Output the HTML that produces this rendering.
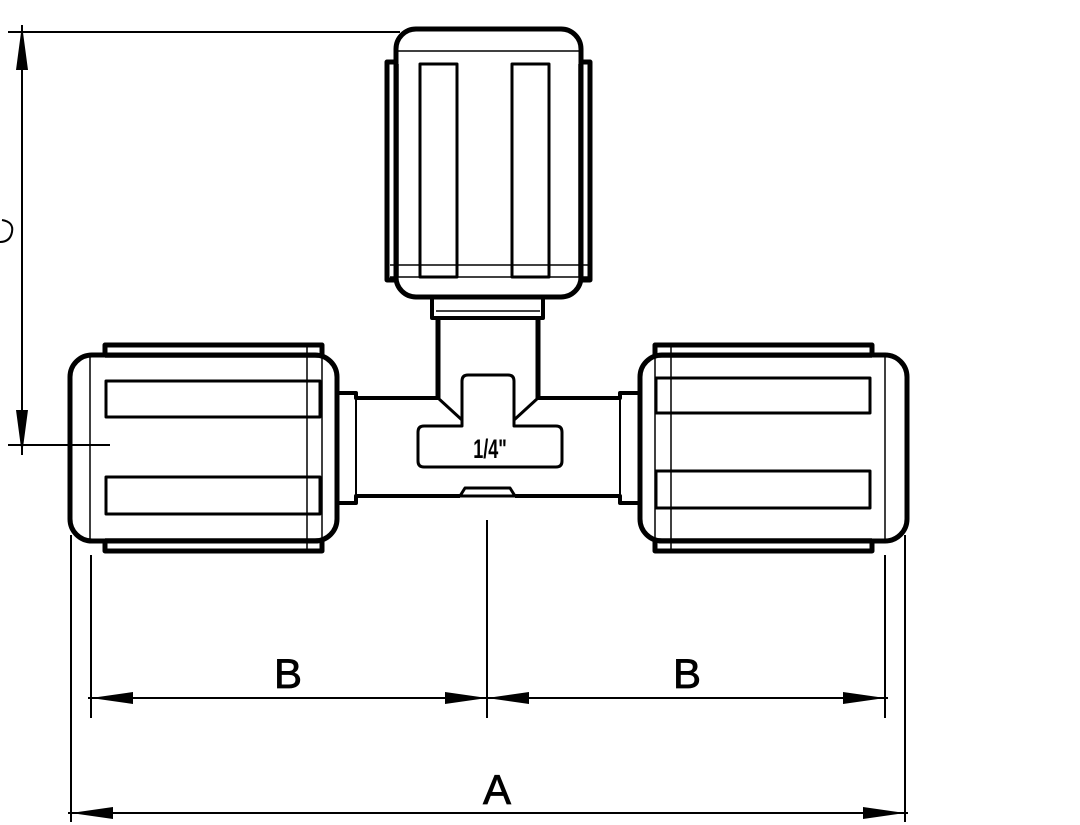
<!DOCTYPE html>
<html><head><style>html,body{margin:0;padding:0;background:#fff}svg{display:block}</style></head>
<body>
<svg width="1080" height="825" viewBox="0 0 1080 825" xmlns="http://www.w3.org/2000/svg" font-family="Liberation Sans, sans-serif">
<g fill="none" stroke="#000" stroke-linejoin="round">
<!-- dimension C -->
<line x1="8" y1="32" x2="400" y2="32" stroke-width="2"/>
<line x1="8" y1="445" x2="110" y2="445" stroke-width="2"/>
<line x1="22" y1="25" x2="22" y2="455" stroke-width="2"/>
<path d="M2,220 q12,2 10,12 q-2,10 -12,10" stroke-width="2"/>
<!-- top knob -->
<rect x="396" y="29" width="185" height="268" rx="20" stroke-width="5"/>
<path d="M396,62 H387 V280 H396 M581,62 H590 V280 H581" stroke-width="5"/>
<line x1="396" y1="51" x2="581" y2="51" stroke-width="1.5"/>
<line x1="390" y1="265" x2="588" y2="265" stroke-width="1.5"/>
<line x1="390" y1="277" x2="588" y2="277" stroke-width="1.5"/>
<line x1="398" y1="64" x2="398" y2="277" stroke-width="1.5"/>
<line x1="579" y1="64" x2="579" y2="277" stroke-width="1.5"/>
<rect x="420" y="64" width="37" height="213" stroke-width="3"/>
<rect x="512" y="64" width="37" height="213" stroke-width="3"/>
<!-- stem -->
<path d="M432,297 V318 H543 V297" stroke-width="4"/>
<line x1="436" y1="311" x2="540" y2="311" stroke-width="1.5"/>
<path d="M438,318 V398 M538,318 V398" stroke-width="5"/>
<!-- body tube -->
<path d="M337,393 H356 V398 H438 M538,398 H620 V393 H640" stroke-width="4"/>
<path d="M337,503 H356 V496 H460 M515,496 H620 V503 H640" stroke-width="4"/>
<path d="M460,496 l5,-8 h45 l5,8 z" stroke-width="3"/>
<line x1="356" y1="398" x2="356" y2="496" stroke-width="2"/>
<line x1="620" y1="398" x2="620" y2="496" stroke-width="2"/>
<line x1="438" y1="398" x2="462" y2="420" stroke-width="3"/>
<line x1="538" y1="398" x2="514" y2="420" stroke-width="3"/>
<!-- tee label outline -->
<path d="M424,426 H462 V381 Q462,375 468,375 H508 Q514,375 514,381 V426 H556 Q562,426 562,432 V461 Q562,467 556,467 H424 Q418,467 418,461 V432 Q418,426 424,426 Z" stroke-width="3"/>
<!-- left knob -->
<rect x="70" y="355" width="267" height="186" rx="22" stroke-width="5"/>
<path d="M105,355 V345 H322 V355 M105,541 V551 H322 V541" stroke-width="5"/>
<line x1="90" y1="355" x2="90" y2="541" stroke-width="1.5"/>
<line x1="307" y1="347" x2="307" y2="549" stroke-width="1.5"/>
<line x1="322" y1="347" x2="322" y2="549" stroke-width="1.5"/>
<line x1="105" y1="357" x2="320" y2="357" stroke-width="1.5"/>
<line x1="105" y1="539" x2="320" y2="539" stroke-width="1.5"/>
<rect x="106" y="381" width="214" height="36" stroke-width="3"/>
<rect x="106" y="477" width="214" height="37" stroke-width="3"/>
<!-- right knob -->
<rect x="640" y="355" width="267" height="186" rx="22" stroke-width="5"/>
<path d="M655,355 V345 H872 V355 M655,541 V551 H872 V541" stroke-width="5"/>
<line x1="655" y1="347" x2="655" y2="549" stroke-width="1.5"/>
<line x1="671" y1="347" x2="671" y2="549" stroke-width="1.5"/>
<line x1="885" y1="355" x2="885" y2="541" stroke-width="1.5"/>
<line x1="657" y1="357" x2="872" y2="357" stroke-width="1.5"/>
<line x1="657" y1="539" x2="872" y2="539" stroke-width="1.5"/>
<rect x="656" y="378" width="214" height="35" stroke-width="3"/>
<rect x="656" y="471" width="214" height="37" stroke-width="3"/>
<!-- dimension B / A -->
<line x1="71" y1="535" x2="71" y2="822" stroke-width="2"/>
<line x1="905" y1="535" x2="905" y2="822" stroke-width="2"/>
<line x1="91" y1="555" x2="91" y2="718" stroke-width="2"/>
<line x1="885" y1="555" x2="885" y2="718" stroke-width="2"/>
<line x1="487" y1="520" x2="487" y2="718" stroke-width="2"/>
<line x1="88" y1="698" x2="888" y2="698" stroke-width="2"/>
<line x1="68" y1="813" x2="908" y2="813" stroke-width="2"/>
</g>
<g fill="#000">
<path d="M22,25 l-6,45 h12 z M22,455 l-6,-45 h12 z"/>
<path d="M91,698 l42,-6 v12 z M487,698 l-42,-6 v12 z M487,698 l42,-6 v12 z M885,698 l-42,-6 v12 z"/>
<path d="M71,813 l42,-6 v12 z M905,813 l-42,-6 v12 z"/>
</g>
<text x="490" y="458" font-size="24" font-weight="bold" text-anchor="middle" transform="translate(490,458) scale(0.75,1.1) translate(-490,-458)">1/4"</text>
<text x="288" y="688" font-size="42" text-anchor="middle" stroke="#000" stroke-width="0.8">B</text>
<text x="687" y="688" font-size="42" text-anchor="middle" stroke="#000" stroke-width="0.8">B</text>
<text x="497" y="804" font-size="42" text-anchor="middle" stroke="#000" stroke-width="0.8">A</text>
</svg>
</body></html>
